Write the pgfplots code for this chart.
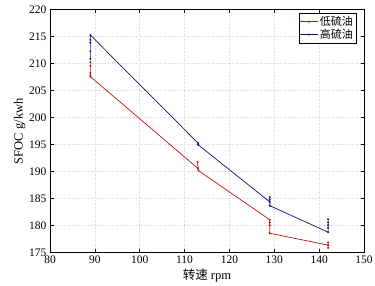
\documentclass[border=0pt]{standalone}
\usepackage{fontspec}
\setmainfont{Liberation Serif}
\newfontfamily\cjk{Noto Sans CJK SC}
\usepackage{pgfplots}
\pgfplotsset{compat=1.18}
\definecolor{cred}{RGB}{200,16,16}
\definecolor{cblue}{RGB}{16,16,120}
\begin{document}
\begin{tikzpicture}
\begin{axis}[
  name=ax,
  scale only axis,
  width=314pt, height=243pt,
  xmin=80, xmax=150, ymin=175, ymax=220,
  xtick={80,90,...,150}, ytick={175,180,...,220},
  tick align=inside,
  major tick length=3.5pt,
  tick style={black, line width=0.5pt},
  axis line style={black, line width=0.6pt},
  grid=major,
  major grid style={gray!35, dotted, line width=0.5pt},
  /pgf/number format/assume math mode=true,
  tick label style={font=\fontsize{11.5}{13}\selectfont},
  label style={font=\fontsize{12.5}{14}\selectfont},
  xlabel={{\cjk 转速} rpm},
  ylabel={SFOC g/kwh},
  xlabel style={yshift=2pt},
  ylabel style={yshift=-3pt},
  legend style={at={(0.975,0.986)}, anchor=north east, draw=black, line width=0.6pt,
    font=\fontsize{11}{12}\selectfont, inner sep=1pt, row sep=-2pt},
  legend cell align=left,
]
\addplot[cred, line width=0.7pt, mark=*, mark size=0.6pt] coordinates {
  (89,210.3) (89,209.6) (89,208.3) (89,207.9) (89,207.6)
  (113,190.6) (112.9,191.8) (113.1,190.2)
  (129,181.1) (129,180.6) (129,180.1) (129,178.6)
  (142,176.4) (142,176.9) (142,175.9) (142,176.4)
};
\addlegendentry{\cjk 低硫油}
\addplot[cblue, line width=0.7pt, mark=*, mark size=0.6pt] coordinates {
  (89,210.9) (89,212.3) (89,213.9) (89,214.4) (89,215.3)
  (113,195.3) (113,195.0)
  (129,184.4) (129,185.3) (129,184.8) (129,183.7)
  (142,178.8) (142,179.6) (142,180.1) (142,180.6) (142,181.2)
};
\addlegendentry{\cjk 高硫油}
\end{axis}
\pgfresetboundingbox
\path ([shift={(-50pt,-32.3pt)}]ax.south west) rectangle ([shift={(11pt,9.7pt)}]ax.north east);
\end{tikzpicture}
\end{document}
